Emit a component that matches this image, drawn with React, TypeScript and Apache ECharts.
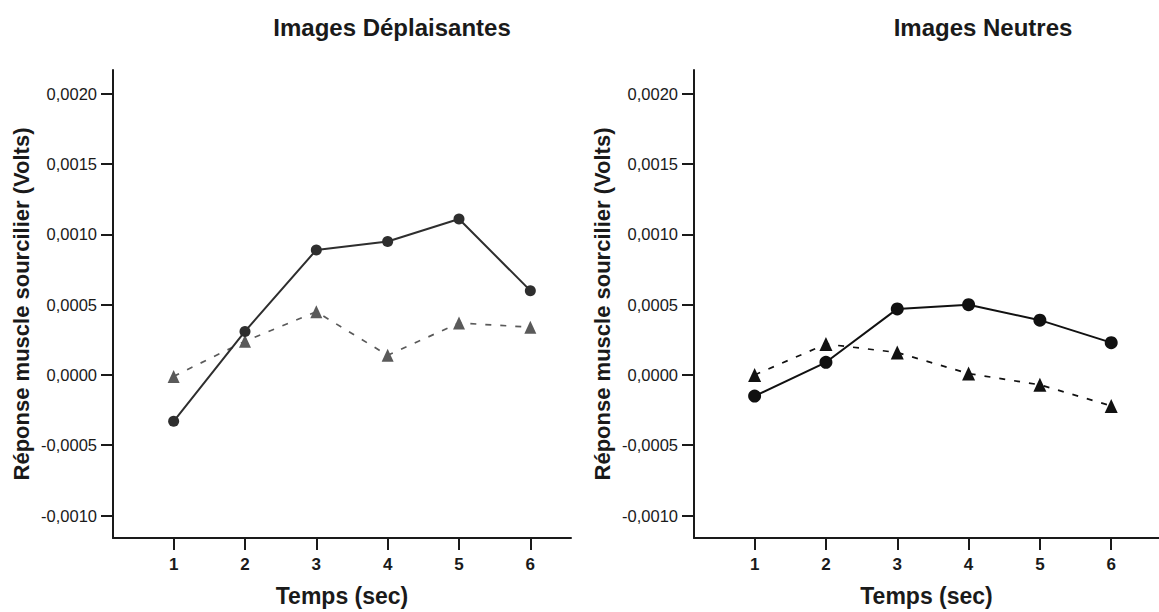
import React, { useEffect, useRef } from "react";
import * as echarts from "echarts";

// Time points (seconds)
const TIMES = [1, 2, 3, 4, 5, 6];

// Corrugator (sourcilier) response, volts — unpleasant images
const UNPLEASANT_CIRCLE = [-0.00033, 0.00031, 0.00089, 0.00095, 0.00111, 0.0006];
const UNPLEASANT_TRIANGLE = [-0.00001, 0.00024, 0.00045, 0.00014, 0.00037, 0.00034];

// Corrugator (sourcilier) response, volts — neutral images
const NEUTRAL_CIRCLE = [-0.00015, 0.00009, 0.00047, 0.0005, 0.00039, 0.00023];
const NEUTRAL_TRIANGLE = [0.0, 0.00022, 0.00016, 0.00001, -0.00007, -0.00022];

const Y_TICKS = [-0.001, -0.0005, 0, 0.0005, 0.001, 0.0015, 0.002];

const TITLES = ["Images Déplaisantes", "Images Neutres"];
const Y_NAME = "Réponse muscle sourcilier (Volts)";
const X_NAME = "Temps (sec)";

const FONT = "'Liberation Sans', Arial, Helvetica, sans-serif";
const AXIS_COLOR = "#1a1a1a";

const pairs = (ys: number[]) => TIMES.map((t, i) => [t, ys[i]]);

function xAxis(gridIndex: number, max: number) {
  return {
    type: "value",
    gridIndex,
    min: 0.15,
    max,
    name: X_NAME,
    nameLocation: "middle",
    nameGap: 46,
    nameTextStyle: { fontFamily: FONT, fontSize: 23, fontWeight: "bold", color: AXIS_COLOR },
    axisLine: { show: true, onZero: false, lineStyle: { color: AXIS_COLOR, width: 2 } },
    axisTick: { show: true, length: 12, customValues: TIMES, lineStyle: { color: AXIS_COLOR, width: 2 } },
    axisLabel: {
      customValues: TIMES,
      margin: 18,
      fontFamily: FONT,
      fontSize: 17,
      fontWeight: "bold",
      color: AXIS_COLOR,
      formatter: (v: number) => String(Math.round(v)),
    },
    splitLine: { show: false },
  };
}

function yAxis(gridIndex: number) {
  return {
    type: "value",
    gridIndex,
    min: -0.00116,
    max: 0.00217,
    name: Y_NAME,
    nameLocation: "middle",
    nameGap: 81,
    nameTextStyle: { fontFamily: FONT, fontSize: 22, fontWeight: "bold", color: AXIS_COLOR },
    axisLine: { show: true, onZero: false, lineStyle: { color: AXIS_COLOR, width: 2 } },
    axisTick: { show: true, length: 12, customValues: Y_TICKS, lineStyle: { color: AXIS_COLOR, width: 2 } },
    axisLabel: {
      customValues: Y_TICKS,
      margin: 16,
      fontFamily: FONT,
      fontSize: 16.5,
      color: AXIS_COLOR,
      formatter: (v: number) => v.toFixed(4).replace(".", ","),
    },
    splitLine: { show: false },
  };
}

function triangleSeries(idx: number, ys: number[], color: string, size: number[]) {
  return {
    type: "line",
    xAxisIndex: idx,
    yAxisIndex: idx,
    data: pairs(ys),
    symbol: "triangle",
    symbolSize: size,
    itemStyle: { color },
    lineStyle: { color, width: 1.7, type: [6, 9] },
    z: 2,
  };
}

function circleSeries(idx: number, ys: number[], color: string, size: number) {
  return {
    type: "line",
    xAxisIndex: idx,
    yAxisIndex: idx,
    data: pairs(ys),
    symbol: "circle",
    symbolSize: size,
    itemStyle: { color },
    lineStyle: { color, width: 2, type: "solid" },
    z: 3,
  };
}

function titleText(x: number, text: string) {
  return {
    type: "text",
    x,
    y: 27,
    style: {
      text,
      fontFamily: FONT,
      fontSize: 24,
      fontWeight: "bold",
      fill: AXIS_COLOR,
      align: "center",
      verticalAlign: "middle",
    },
  };
}

export default function App() {
  const ref = useRef<HTMLDivElement>(null);

  useEffect(() => {
    if (!ref.current) return;
    const chart = echarts.init(ref.current, undefined, { renderer: "svg" });
    chart.setOption({
      animation: false,
      backgroundColor: "#ffffff",
      graphic: [titleText(392, TITLES[0]), titleText(983, TITLES[1])],
      grid: [
        { left: 113, top: 70, width: 458, height: 474 },
        { left: 694, top: 70, width: 465, height: 474 },
      ],
      xAxis: [xAxis(0, 6.57), xAxis(1, 6.67)],
      yAxis: [yAxis(0), yAxis(1)],
      series: [
        triangleSeries(0, UNPLEASANT_TRIANGLE, "#5a5a5a", [12, 13]),
        circleSeries(0, UNPLEASANT_CIRCLE, "#2e2e2e", 11),
        triangleSeries(1, NEUTRAL_TRIANGLE, "#111111", [13, 14]),
        circleSeries(1, NEUTRAL_CIRCLE, "#111111", 13),
      ],
    });
    return () => chart.dispose();
  }, []);

  return (
    <div
      ref={ref}
      style={{ position: "fixed", left: 0, top: 0, width: 1159, height: 612, background: "#fff" }}
    />
  );
}
